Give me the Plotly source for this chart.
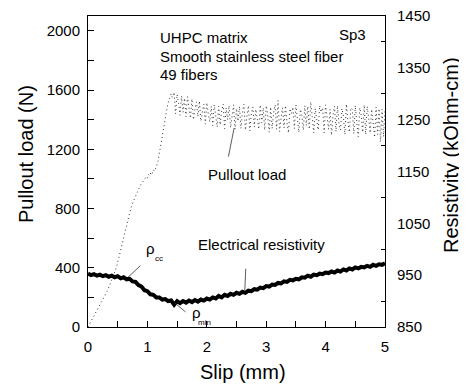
import numpy as np
import plotly.graph_objects as go

# ---------------- data ----------------
rise_slip = [0.00, 0.04, 0.08, 0.12, 0.16, 0.20, 0.24, 0.28, 0.32, 0.36,
             0.40, 0.44, 0.48, 0.52, 0.56, 0.60, 0.64, 0.68, 0.72, 0.76,
             0.80, 0.84, 0.88, 0.92, 0.96, 0.98, 1.00, 1.02, 1.04, 1.06,
             1.08, 1.10, 1.12, 1.14, 1.16, 1.18, 1.20, 1.22, 1.24, 1.26,
             1.28, 1.30, 1.32, 1.34, 1.36, 1.38, 1.40, 1.42]
rise_load = [0, 30, 62, 93, 122, 150, 178, 205, 240, 278,
             320, 362, 405, 470, 540, 610, 680, 745, 800, 845,
             885, 920, 955, 980, 1000, 1015, 1005, 1030, 1020, 1045,
             1035, 1060, 1050, 1075, 1085, 1120, 1170, 1220, 1270, 1315,
             1370, 1420, 1465, 1500, 1530, 1560, 1575, 1550]

band_start, band_step = 1.45, 0.025
band_load = [1585, 1440, 1570, 1510, 1430, 1560, 1450, 1545, 1420, 1555,
             1480, 1410, 1540, 1400, 1470, 1520, 1420, 1525, 1390, 1450,
             1505, 1370, 1515, 1440, 1385, 1490, 1360, 1500, 1420, 1350,
             1490, 1365, 1460, 1505, 1340, 1480, 1400, 1495, 1345, 1430,
             1500, 1335, 1475, 1390, 1490, 1340, 1455, 1505, 1330, 1420,
             1495, 1325, 1440, 1485, 1350, 1470, 1400, 1335, 1500, 1380,
             1480, 1330, 1495, 1430, 1315, 1485, 1340, 1450, 1500, 1335,
             1530, 1320, 1410, 1480, 1345, 1495, 1380, 1310, 1475, 1440,
             1485, 1340, 1500, 1390, 1315, 1470, 1430, 1330, 1495, 1360,
             1490, 1335, 1520, 1420, 1310, 1475, 1390, 1330, 1495, 1450,
             1480, 1310, 1500, 1400, 1335, 1470, 1295, 1430, 1490, 1320,
             1495, 1370, 1330, 1475, 1420, 1300, 1505, 1390, 1315, 1480,
             1470, 1305, 1495, 1380, 1285, 1480, 1430, 1315, 1500, 1300,
             1490, 1410, 1310, 1470, 1360, 1280, 1485, 1300, 1475, 1250,
             1470, 1285, 1460]

res_step = 0.05
resistivity = [953, 950, 952, 949, 951, 948, 950, 947, 949, 946,
               948, 944, 946, 942, 943, 938, 937, 931, 928, 921,
               919, 913, 912, 907, 907, 903, 904, 900, 901, 893,
               900, 896, 900, 897, 901, 898, 902, 899, 903, 901,
               905, 903, 907, 905, 910, 907, 912, 910, 914, 912,
               916, 914, 918, 916, 920, 919, 923, 922, 926, 925,
               929, 928, 932, 931, 935, 934, 938, 937, 941, 940,
               943, 942, 946, 945, 949, 947, 951, 950, 953, 952,
               955, 954, 957, 955, 959, 957, 961, 959, 963, 961,
               965, 963, 966, 965, 968, 966, 970, 968, 971, 970,
               973]

x_ticks = [0, 1, 2, 3, 4, 5]
load_ticks = [0, 400, 800, 1200, 1600, 2000]
res_labels = [850, 950, 1050, 1150, 1250, 1350, 1450]
res_minor = [900, 1000, 1100, 1200, 1300, 1400]

band_slip = band_start + band_step * np.arange(len(band_load))
load_slip = list(rise_slip) + list(band_slip)
load_vals = list(rise_load) + list(band_load)
res_slip = res_step * np.arange(len(resistivity))

FONT = "Liberation Sans, Arial, sans-serif"
OFF = 8                      # page body margin of the browser
W, H = 467 - OFF, 385 - OFF  # figure size (fits in the window)
# plot area in screen pixels
L, R, T, B = 88, 385, 16, 327


def px(x):
    return (x - L) / (R - L)


def py(y):
    return (B - y) / (B - T)


fig = go.Figure()
fig.add_trace(go.Scatter(x=load_slip, y=load_vals, mode="lines",
                         line=dict(color="#333", width=1, dash="1px,3px"),
                         showlegend=False, hoverinfo="skip"))
fig.add_trace(go.Scatter(x=res_slip, y=resistivity, mode="lines", yaxis="y2",
                         line=dict(color="black", width=4),
                         showlegend=False, hoverinfo="skip"))

axis_common = dict(showgrid=False, zeroline=False, showline=True, linecolor="black",
                   linewidth=1, ticks="inside", tickcolor="black",
                   ticklabeloverflow="allow", automargin=False,
                   tickfont=dict(family=FONT, size=15, color="black"))

fig.update_layout(
    width=W, height=H,
    margin=dict(l=L - OFF, r=W - (R - OFF), t=T - OFF, b=H - (B - OFF),
                autoexpand=False),
    paper_bgcolor="white", plot_bgcolor="white",
    font=dict(family=FONT, color="black"),
    xaxis=dict(range=[0, 5], tickvals=x_ticks, ticklen=6, mirror=True,
               minor=dict(dtick=0.5, ticks="inside", ticklen=6, tickcolor="black"),
               ticklabelstandoff=6, **axis_common),
    yaxis=dict(range=[0, 2100], tickvals=load_ticks, ticklen=6,
               minor=dict(dtick=200, ticks="inside", ticklen=6, tickcolor="black"),
               ticklabelstandoff=4, **axis_common),
    yaxis2=dict(range=[850, 1450], overlaying="y", side="right",
                tickvals=res_labels, showgrid=False, zeroline=False, showline=True,
                linecolor="black", linewidth=1, ticks="",
                ticklabeloverflow="allow", automargin=False,
                minor=dict(tickmode="array", tickvals=res_minor, ticks="inside",
                           ticklen=4, tickcolor="black"),
                ticklabelstandoff=8,
                tickfont=dict(family=FONT, size=15, color="black")),
)

ann = []


def text(s, x, y, size=15, xanchor="left", angle=0):
    ann.append(dict(text=s, x=px(x), y=py(y), xref="paper", yref="paper",
                    xanchor=xanchor, yanchor="middle", showarrow=False,
                    textangle=angle, font=dict(family=FONT, size=size, color="black")))


text("UHPC matrix", 158, 38)
text("Smooth stainless steel fiber", 158, 56)
text("49 fibers", 158, 74)
text("Sp3", 368, 35, xanchor="right")
text("Pullout load", 206, 174)
text("Electrical resistivity", 196, 244)
text("ρ", 144, 248, size=15)
text("cc", 153, 258, size=8)
text("ρ", 190, 312, size=15)
text("min", 196, 322, size=8)
text("Slip (mm)", 243, 372, size=20, xanchor="center")
text("Pullout load (N)", 26, 154, size=20, xanchor="center", angle=-90)
text("Resistivity (kOhm-cm)", 451, 155, size=20, xanchor="center", angle=-90)


def pointer(x, y, ax, ay, yref):
    ann.append(dict(x=x, y=y, xref="x", yref=yref, ax=ax, ay=ay, text="",
                    showarrow=True, arrowhead=0, arrowwidth=0.8, arrowcolor="#333"))


pointer(2.46, 1343, -6, 30, "y")
pointer(2.64, 921, 1, -23, "y2")
pointer(0.673, 946, 14, -13, "y2")
pointer(1.465, 896, 12, 10, "y2")

fig.update_layout(annotations=ann)
fig.write_html("out.html")
